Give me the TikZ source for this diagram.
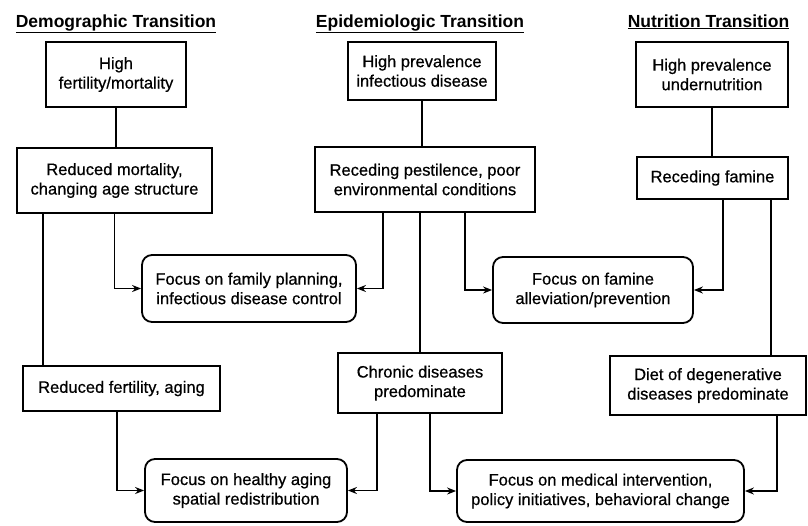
\documentclass[tikz,border=0pt]{standalone}
\usepackage{fontspec}
\setmainfont{Liberation Sans}
\newfontfamily\bodyfont[FakeBold=0.6]{Liberation Sans}
\usetikzlibrary{arrows.meta,calc}
\begin{document}
\begin{tikzpicture}[x=1pt,y=-1pt,
 box/.style={draw, line width=1.8pt, align=center, inner sep=0pt, font=\bodyfont\fontsize{16.5}{19.5}\selectfont},
 focus/.style={box, rounded corners=10pt},
 head/.style={font=\fontsize{17.5}{21}\selectfont\bfseries, inner sep=0pt, anchor=base},
 conn/.style={line width=1.8pt},
 arr/.style={conn, -{Stealth[length=9pt,width=7pt]}}]
\useasboundingbox (0,0) rectangle (808,525);
% headings
\node[head] (hd) at (116,27) {\underline{Demographic Transition}};
\node[head] (he) at (420,27) {\underline{Epidemiologic Transition}};
\node[head] (hn) at (708.5,27) {\underline{Nutrition Transition}};
% demographic column
\node[box, minimum width=140, minimum height=65] (h1) at (116,74.5) {High\\fertility/mortality};
\node[box, minimum width=195, minimum height=65] (h2) at (114.5,180.5) {Reduced mortality,\\changing age structure};
\node[box, minimum width=197, minimum height=45] (h3) at (121.5,388.5) {Reduced fertility, aging};
% epidemiologic column
\node[box, minimum width=148, minimum height=58] (e1) at (422,71) {High prevalence\\infectious disease};
\node[box, minimum width=220, minimum height=65] (e2) at (425,179.5) {Receding pestilence, poor\\environmental conditions};
\node[box, minimum width=164, minimum height=60] (e3) at (420,383) {Chronic diseases\\predominate};
% nutrition column
\node[box, minimum width=152, minimum height=65] (n1) at (712,74.5) {High prevalence\\undernutrition};
\node[box, minimum width=151, minimum height=42] (n2) at (712.5,178) {Receding famine};
\node[box, minimum width=196, minimum height=59] (n3) at (708,385.5) {Diet of degenerative\\diseases predominate};
% focus boxes
\node[focus, minimum width=214, minimum height=67] (f1) at (249,288.5) {Focus on family planning,\\infectious disease control};
\node[focus, minimum width=200, minimum height=66] (f2) at (593,290) {Focus on famine\\alleviation/prevention};
\node[focus, minimum width=202, minimum height=63] (f3) at (246,490.5) {Focus on healthy aging\\spatial redistribution};
\node[focus, minimum width=287, minimum height=62] (f4) at (600.5,491) {Focus on medical intervention,\\policy initiatives, behavioral change};
% connectors
\draw[conn] (h1.south) -- (h1.south |- h2.north);
\draw[conn] (e1.south) -- (e1.south |- e2.north);
\draw[conn] (n1.south) -- (n1.south |- n2.north);
\draw[conn] ([xshift=-71.5pt]h2.south) -- ([xshift=-71.5pt]h2.south |- h3.north);
\draw[conn] (e3.north |- e2.south) -- (e3.north);
\draw[conn] ([xshift=58.5pt]n2.south) -- ([xshift=58.5pt]n2.south |- n3.north);
\draw[arr] (h2.south) |- (f1.west);
\draw[arr] ([xshift=-42pt]e2.south) |- (f1.east);
\draw[arr] ([xshift=40pt]e2.south) |- (f2.west);
\draw[arr] ([xshift=10.5pt]n2.south) |- (f2.east);
\draw[arr] ([xshift=-4.5pt]h3.south) |- (f3.west);
\draw[arr] ([xshift=-43pt]e3.south) |- (f3.east);
\draw[arr] ([xshift=10pt]e3.south) |- (f4.west);
\draw[arr] ([xshift=69pt]n3.south) |- (f4.east);
\end{tikzpicture}
\end{document}
